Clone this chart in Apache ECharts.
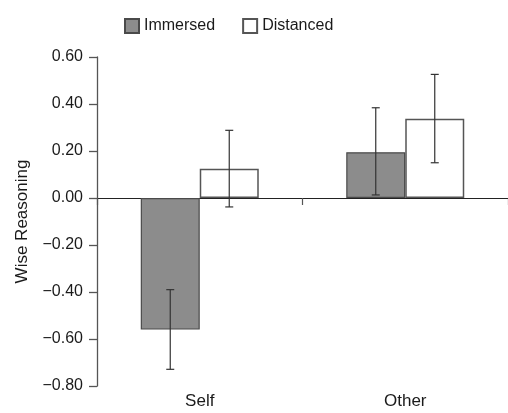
<!DOCTYPE html>
<html>
<head>
<meta charset="utf-8">
<script src="https://cdn.jsdelivr.net/npm/echarts@6/dist/echarts.min.js"></script>
<style>
html,body{margin:0;padding:0;background:#fff;}
#chart{width:508px;height:413px;}
</style>
</head>
<body>
<div id="chart"></div>
<script>
// ---- data ----
const categories = ['Self', 'Other'];
const seriesNames = ['Immersed', 'Distanced'];
const immersed = [-0.56, 0.195];
const distanced = [0.125, 0.337];
const immersedLow = [-0.729, 0.013];
const immersedHigh = [-0.390, 0.384];
const distancedLow = [-0.038, 0.150];
const distancedHigh = [0.288, 0.526];
const yTicks = [-0.8, -0.6, -0.4, -0.2, 0, 0.2, 0.4, 0.6];

const FONT = "'Liberation Sans', Arial, Helvetica, sans-serif";
const BAR_W = 59;

function errData(low, high) {
  return categories.map((c, i) => [i, low[i], high[i]]);
}
function errSeries(name, low, high, dir) {
  return {
    type: 'custom',
    name: name + ' error',
    xAxisIndex: 0,
    yAxisIndex: 0,
    z: 5,
    silent: true,
    data: errData(low, high),
    renderItem: function (params, api) {
      const lo = api.coord([api.value(0), api.value(1)]);
      const hi = api.coord([api.value(0), api.value(2)]);
      const x = lo[0] + dir * BAR_W / 2;
      const cap = 4;
      const style = { stroke: '#333', lineWidth: 1.2 };
      return {
        type: 'group',
        children: [
          { type: 'line', shape: { x1: x, y1: lo[1], x2: x, y2: hi[1] }, style: style },
          { type: 'line', shape: { x1: x - cap, y1: lo[1], x2: x + cap, y2: lo[1] }, style: style },
          { type: 'line', shape: { x1: x - cap, y1: hi[1], x2: x + cap, y2: hi[1] }, style: style }
        ]
      };
    }
  };
}

const chart = echarts.init(document.getElementById('chart'), null, { renderer: 'canvas' });
chart.setOption({
  animation: false,
  backgroundColor: '#fff',
  legend: {
    data: seriesNames,
    left: 124,
    top: 18,
    padding: 0,
    itemWidth: 14,
    itemHeight: 14,
    itemGap: 27,
    icon: 'rect',
    textStyle: { fontFamily: FONT, fontSize: 16, color: '#1a1a1a' }
  },
  grid: { left: 97, top: 57, width: 413, height: 329 },
  xAxis: [
    {
      type: 'category',
      data: categories,
      axisLine: { onZero: true, lineStyle: { color: '#222', width: 1 } },
      axisTick: { show: true, length: 7, lineStyle: { color: '#555', width: 1.2 } },
      axisLabel: { show: false },
      splitLine: { show: false }
    },
    {
      type: 'category',
      data: categories,
      position: 'bottom',
      axisLine: { show: false, onZero: false },
      axisTick: { show: false },
      axisLabel: { show: true, margin: 7, fontFamily: FONT, fontSize: 17, color: '#1a1a1a' },
      splitLine: { show: false }
    }
  ],
  yAxis: {
    type: 'value',
    min: -0.8,
    max: 0.6,
    interval: 0.2,
    name: 'Wise Reasoning',
    nameLocation: 'middle',
    nameRotate: 90,
    nameGap: 66,
    nameTextStyle: { fontFamily: FONT, fontSize: 17, color: '#1a1a1a' },
    axisLine: { show: true, lineStyle: { color: '#555', width: 1.3 } },
    axisTick: { show: true, length: 8, lineStyle: { color: '#555', width: 1.3 } },
    axisLabel: {
      margin: 14,
      fontFamily: FONT,
      fontSize: 16,
      color: '#1a1a1a',
      formatter: function (v) {
        const s = Math.abs(v).toFixed(2);
        return v < -1e-9 ? '\u2212' + s : s;
      }
    },
    splitLine: { show: false }
  },
  series: [
    {
      type: 'bar',
      name: seriesNames[0],
      data: immersed,
      barWidth: BAR_W,
      barGap: '0%',
      itemStyle: { color: '#8c8c8c', borderColor: '#4a4a4a', borderWidth: 1.2 }
    },
    {
      type: 'bar',
      name: seriesNames[1],
      data: distanced,
      barWidth: BAR_W,
      barGap: '0%',
      itemStyle: { color: '#ffffff', borderColor: '#555', borderWidth: 1.5 }
    },
    errSeries(seriesNames[0], immersedLow, immersedHigh, -1),
    errSeries(seriesNames[1], distancedLow, distancedHigh, 1)
  ]
});
</script>
</body>
</html>
